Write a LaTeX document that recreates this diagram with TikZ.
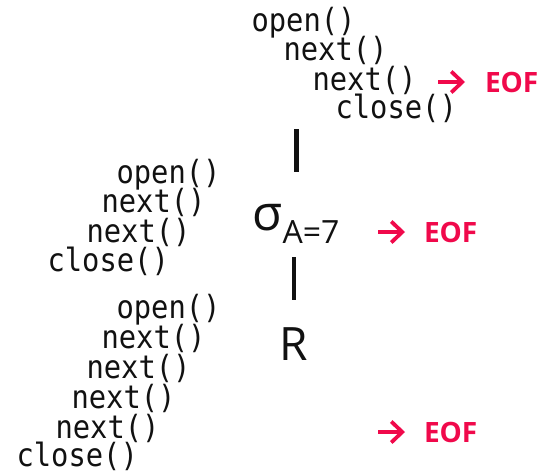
\documentclass[tikz,border=0pt]{standalone}
\usepackage{fontspec}
\setmonofont[FakeStretch=0.9]{DejaVu Sans Mono}
\newfontfamily\opensans{Open Sans}
\usetikzlibrary{arrows.meta}
\definecolor{eofred}{HTML}{F0094B}
\definecolor{ink}{HTML}{111111}
\tikzset{
  call/.style={anchor=base west, inner sep=0pt, outer sep=0pt, text=ink,
    font=\ttfamily\fontsize{32}{32}\selectfont},
  eof/.style={anchor=base west, inner sep=0pt, outer sep=0pt, text=eofred,
    font=\opensans\bfseries\fontsize{28}{28}\selectfont},
  eofarrow/.style={draw=eofred, line width=3.8pt,
    -{Straight Barb[length=11pt,width=21pt,line width=3.8pt]}},
  opnode/.style={anchor=base west, inner sep=0pt, outer sep=0pt, text=ink},
  pipe/.style={draw=ink, line width=4.2pt}
}
\begin{document}
\begin{tikzpicture}[x=1pt,y=-1pt]
\useasboundingbox (0,0) rectangle (548,474);
% top group
\node[call] (t1) at (251.5,31.2) {open()};
\node[call] (t2) at (283.5,60.7) {next()};
\node[call] (t3) at (312.5,90.7) {next()};
\node[call] (t4) at (335.5,118.7) {close()};
\node[eof] (e1) at (485,92) {EOF};
% middle group
\node[call] (m1) at (116.5,183.7) {open()};
\node[call] (m2) at (101.5,212.2) {next()};
\node[call] (m3) at (86.5,242.2) {next()};
\node[call] (m4) at (47.5,271.2) {close()};
\node[eof] (e2) at (424,242) {EOF};
% bottom group
\node[call] (b1) at (116.5,318.7) {open()};
\node[call] (b2) at (101.5,348.7) {next()};
\node[call] (b3) at (86.5,378.2) {next()};
\node[call] (b4) at (71.5,408.2) {next()};
\node[call] (b5) at (55.5,438.7) {next()};
\node[call] (b6) at (16.5,466.5) {close()};
\node[eof] (e3) at (424,442) {EOF};
% operators
\node[opnode, font=\opensans\fontsize{49}{49}\selectfont] (sig) at (252,230) {σ};
\node[opnode, font=\opensans\fontsize{32}{32}\selectfont] (sub) at (282.5,243) {A=7};
\node[opnode, font=\opensans\fontsize{46}{46}\selectfont] (rel) at (279,360) {R};
% pipes
\coordinate (p1a) at (296.5,129);
\coordinate (p1b) at (296.5,172);
\coordinate (p2a) at (294,257);
\coordinate (p2b) at (294,300);
\draw[pipe] (p1a) -- (p1b);
\draw[pipe] (p2a) -- (p2b);
% arrows to EOF
\draw[eofarrow] ([shift={(-47,-10)}]e1.base west) -- ([shift={(-20,-10)}]e1.base west);
\draw[eofarrow] ([shift={(-46,-10)}]e2.base west) -- ([shift={(-19,-10)}]e2.base west);
\draw[eofarrow] ([shift={(-46,-10)}]e3.base west) -- ([shift={(-19,-10)}]e3.base west);
\end{tikzpicture}
\end{document}
